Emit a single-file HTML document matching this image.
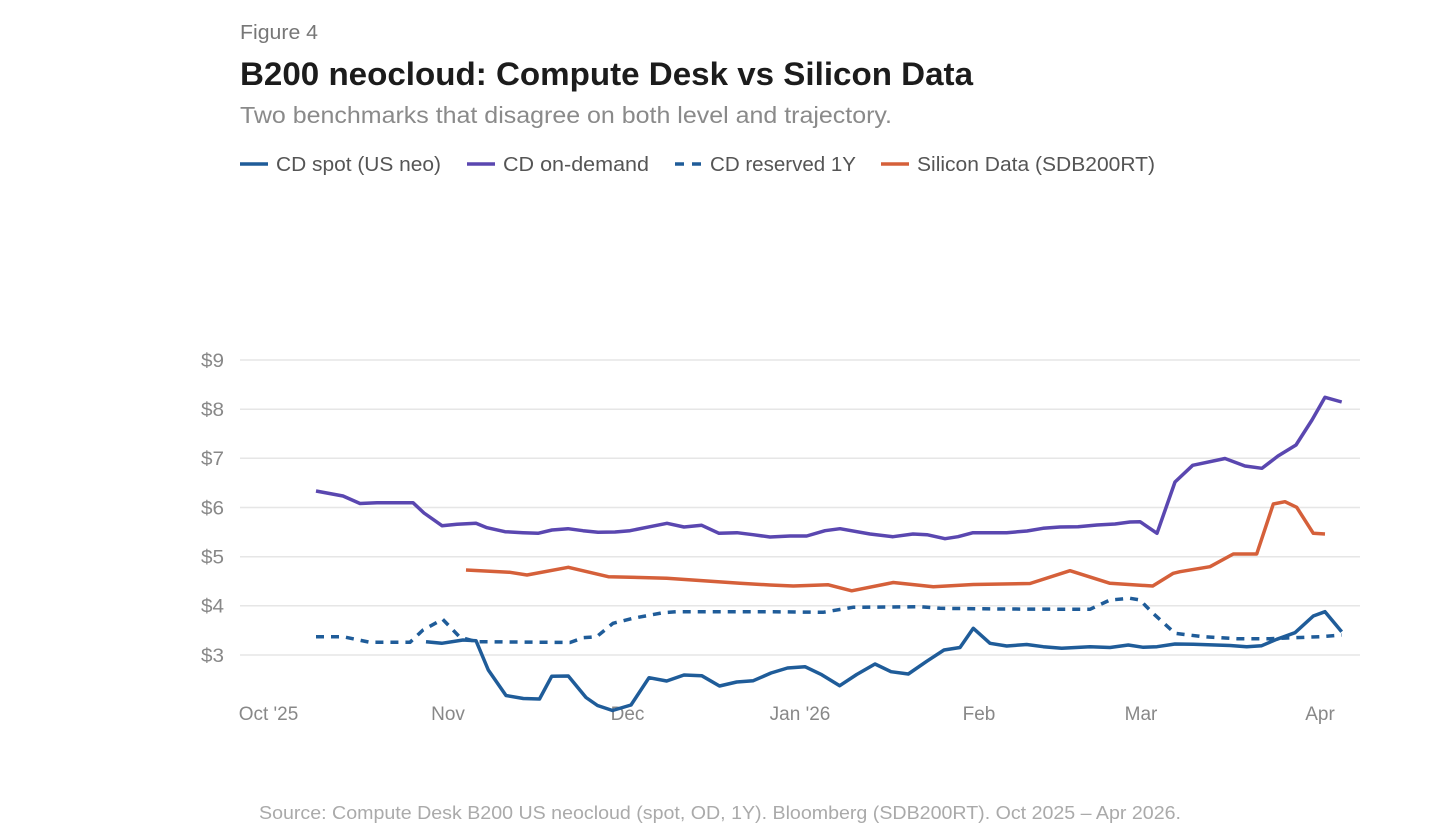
<!DOCTYPE html>
<html>
<head>
<meta charset="utf-8">
<style>
  html, body { margin: 0; padding: 0; background: #ffffff; }
  body { width: 1440px; height: 840px; overflow: hidden; }
  svg { display: block; }
  text { font-family: "Liberation Sans", "DejaVu Sans", sans-serif; }
</style>
</head>
<body>
<svg width="1440" height="840" viewBox="0 0 1440 840" xmlns="http://www.w3.org/2000/svg">
  <rect x="0" y="0" width="1440" height="840" fill="#ffffff"/>

  <!-- Header -->
  <text x="240" y="39" font-size="20" fill="#777777" textLength="78" lengthAdjust="spacingAndGlyphs">Figure 4</text>
  <text x="240" y="85" font-size="32" font-weight="bold" fill="#1c1c1c" textLength="733" lengthAdjust="spacingAndGlyphs">B200 neocloud: Compute Desk vs Silicon Data</text>
  <text x="240" y="123" font-size="23" fill="#8a8a8a" textLength="652" lengthAdjust="spacingAndGlyphs">Two benchmarks that disagree on both level and trajectory.</text>

  <!-- Legend -->
  <line x1="240" y1="164" x2="268" y2="164" stroke="#1f5c99" stroke-width="3.5"/>
  <text x="276" y="171" font-size="20" fill="#555555" textLength="165" lengthAdjust="spacingAndGlyphs">CD spot (US neo)</text>
  <line x1="467" y1="164" x2="495" y2="164" stroke="#5a47b0" stroke-width="3.5"/>
  <text x="503" y="171" font-size="20" fill="#555555" textLength="146" lengthAdjust="spacingAndGlyphs">CD on-demand</text>
  <line x1="675" y1="164" x2="684" y2="164" stroke="#1f5c99" stroke-width="3.5"/>
  <line x1="692" y1="164" x2="701" y2="164" stroke="#1f5c99" stroke-width="3.5"/>
  <text x="710" y="171" font-size="20" fill="#555555" textLength="146" lengthAdjust="spacingAndGlyphs">CD reserved 1Y</text>
  <line x1="881" y1="164" x2="909" y2="164" stroke="#d5603a" stroke-width="3.5"/>
  <text x="917" y="171" font-size="20" fill="#555555" textLength="238" lengthAdjust="spacingAndGlyphs">Silicon Data (SDB200RT)</text>

  <!-- Gridlines -->
  <g stroke="#e6e6e6" stroke-width="1.5">
    <line x1="240" y1="360" x2="1360" y2="360"/>
    <line x1="240" y1="409.2" x2="1360" y2="409.2"/>
    <line x1="240" y1="458.3" x2="1360" y2="458.3"/>
    <line x1="240" y1="507.5" x2="1360" y2="507.5"/>
    <line x1="240" y1="556.7" x2="1360" y2="556.7"/>
    <line x1="240" y1="605.8" x2="1360" y2="605.8"/>
    <line x1="240" y1="655" x2="1360" y2="655"/>
  </g>

  <!-- Y labels -->
  <g font-size="19" fill="#888888" text-anchor="end">
    <text x="224" y="367" textLength="23" lengthAdjust="spacingAndGlyphs">$9</text>
    <text x="224" y="416" textLength="23" lengthAdjust="spacingAndGlyphs">$8</text>
    <text x="224" y="465" textLength="23" lengthAdjust="spacingAndGlyphs">$7</text>
    <text x="224" y="514.5" textLength="23" lengthAdjust="spacingAndGlyphs">$6</text>
    <text x="224" y="563.5" textLength="23" lengthAdjust="spacingAndGlyphs">$5</text>
    <text x="224" y="612.5" textLength="23" lengthAdjust="spacingAndGlyphs">$4</text>
    <text x="224" y="662" textLength="23" lengthAdjust="spacingAndGlyphs">$3</text>
  </g>

  <!-- X labels -->
  <g font-size="19" fill="#888888" text-anchor="middle">
    <text x="268.5" y="720">Oct '25</text>
    <text x="448" y="720">Nov</text>
    <text x="627.5" y="720">Dec</text>
    <text x="800" y="720">Jan '26</text>
    <text x="979" y="720">Feb</text>
    <text x="1141" y="720">Mar</text>
    <text x="1320" y="720">Apr</text>
  </g>

  <!-- Series -->
  <g fill="none" stroke-width="3.5" stroke-linejoin="round" stroke-linecap="butt">
    <!-- CD reserved 1Y (dashed) -->
    <polyline stroke="#1f5c99" stroke-dasharray="8 7" points="
      316,636.7 343,636.7 370,642.3 410,642.3 423,630 442.7,619.3 460,637.3 476.7,641.7
      570,642.5 583.3,637.7 596.7,636.7 613,623.3 633,618.3 663,612.7 677,611.7 770,611.7
      823,612.3 853,607.3 920,606.7 940,608.3 1000,609 1090,609.3 1110,600 1130,598.3
      1140,600 1153,613.3 1175,633.3 1203,636.7 1237,638.7 1270,638.7 1320,636.7 1341.7,635"/>

    <!-- Silicon Data -->
    <polyline stroke="#d5603a" points="
      466,570 510,572.3 527,575 568.3,567.3 608.3,576.7 640,577.5 666.7,578.3 740,583.3 770,585
      793.3,586 828.3,584.8 851.7,590.8 893.3,582.5 933.3,586.7 973.3,584.5 1030,583.5
      1070,570.7 1110,583.3 1152.7,586 1173.3,573.3 1180,571.7 1210,566.7 1233.3,554
      1256.7,554 1273.3,504 1285,501.7 1296.7,507.3 1313.3,533.3 1325,534"/>

    <!-- CD on-demand -->
    <polyline stroke="#5a47b0" points="
      316,491 343,496 360,503.5 377,502.7 413,502.7 424,513 442,525.7 457,524.3 476,523.3
      487,527.7 505,531.7 523,532.7 538,533.3 552,530 568,528.7 583,530.7 598,532.3 615,532
      630,530.7 650,526.7 667,523.3 684,527 701.7,525.3 719,533.3 737,532.7 753,534.7 770,537
      790,536 806.7,536 825,530.7 840,528.7 870,534 893,536.7 913,534 927,534.7 945,538.7
      958,536.7 973,532.7 1006.7,532.7 1027,531 1043,528.3 1060,527 1078,526.7 1097,525
      1115,524 1130,522 1140,521.7 1157,533.3 1175,482 1192.7,465.3 1225,458.5 1245,466
      1262,468.3 1278,456 1296,445 1312,420 1325,397.3 1341.7,402"/>

    <!-- CD spot -->
    <polyline stroke="#1f5c99" points="
      426,641.7 441.7,643.3 463,640 476,640.7 488.3,670 506,695.5 523.3,698.5 539.5,699
      551.7,676.3 568.3,676 586,697.5 597.5,705.5 612.5,710.5 631,705 649,677.7 666.7,681
      684,675 701.7,675.7 719.5,686 736.7,682 753.3,680.7 771,673 787.5,668 805,666.7
      821.7,674.7 839.7,685.7 856.7,674.5 875,664 891,671.7 908.3,674 926.7,661.3 944,650
      960,647.5 973.3,628.3 990,643.3 1006.7,646 1026.7,644.5 1043.3,646.7 1061.7,648.3
      1090,646.7 1110,647.5 1128.3,645 1143.3,647.3 1157,646.7 1175,644 1193.3,644.3
      1230,645.5 1246.7,646.7 1261.7,645.7 1276.7,639.3 1295,632.7 1313.3,616 1325,611.7 1341.7,631.7"/>
  </g>

  <!-- Source -->
  <text x="720" y="819" font-size="18" fill="#aaaaaa" text-anchor="middle" textLength="922" lengthAdjust="spacingAndGlyphs">Source: Compute Desk B200 US neocloud (spot, OD, 1Y). Bloomberg (SDB200RT). Oct 2025 – Apr 2026.</text>
</svg>
</body>
</html>
